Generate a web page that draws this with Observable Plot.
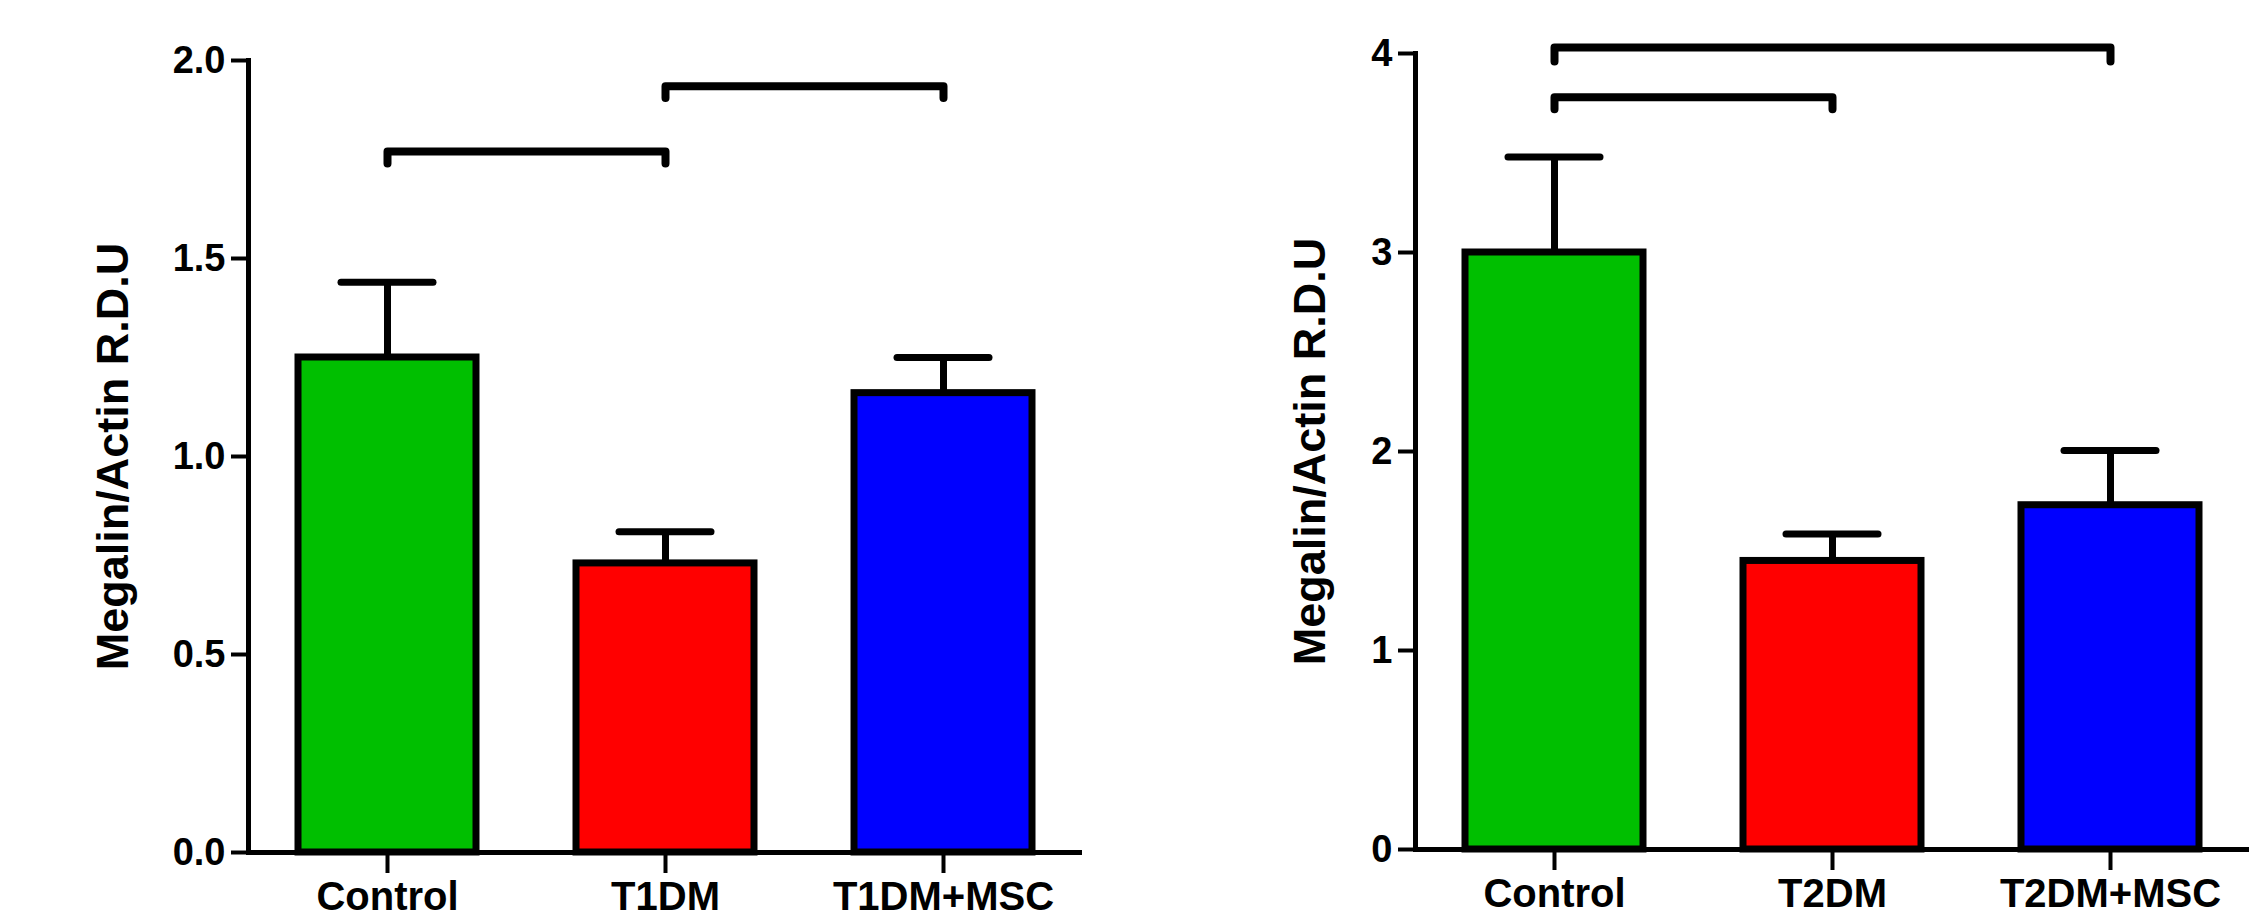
<!DOCTYPE html>
<html><head><meta charset="utf-8">
<script src="https://cdn.jsdelivr.net/npm/d3@7"></script>
<script src="https://cdn.jsdelivr.net/npm/@observablehq/plot@0.6"></script>
<style>
html,body{margin:0;padding:0;background:#fff;}
#wrap{position:relative;width:2262px;height:923px;overflow:hidden;background:#fff;}
#left,#right{position:absolute;top:0;}
#left{left:0;} #right{left:1122px;}
</style></head><body>
<div id="wrap"><div id="left"></div><div id="right"></div></div>
<script>
const yLabel = "Megalin/Actin R.D.U";
const colors = ["#00bf00", "#ff0000", "#0000ff"];

// Panel 1 (T1DM)
const groups1 = ["Control", "T1DM", "T1DM+MSC"];
const means1 = [1.25, 0.73, 1.16];
const sems1 = [0.19, 0.08, 0.09];
const ticks1 = [0, 0.5, 1.0, 1.5, 2.0];
const bracketFrom1 = ["Control", "T1DM"];
const bracketTo1 = ["T1DM", "T1DM+MSC"];
const bracketLevel1 = [1.77, 1.935];
const bracketTip1 = [1.74, 1.905];

// Panel 2 (T2DM)
const groups2 = ["Control", "T2DM", "T2DM+MSC"];
const means2 = [3.0, 1.45, 1.73];
const sems2 = [0.48, 0.135, 0.275];
const ticks2 = [0, 1, 2, 3, 4];
const bracketFrom2 = ["Control", "Control"];
const bracketTo2 = ["T2DM+MSC", "T2DM"];
const bracketLevel2 = [4.03, 3.78];
const bracketTip2 = [3.96, 3.72];

function panel(o) {
  const data = o.groups.map((g, i) => ({group: g, mean: o.means[i], top: o.means[i] + o.sems[i]}));
  const brackets = o.bFrom.flatMap((f, i) => [
    {id: i, x: f, y: o.bTip[i]},
    {id: i, x: f, y: o.bLevel[i]},
    {id: i, x: o.bTo[i], y: o.bLevel[i]},
    {id: i, x: o.bTo[i], y: o.bTip[i]}
  ]);
  return Plot.plot({
    width: o.width, height: 923,
    marginLeft: o.marginLeft, marginRight: o.width - o.marginLeft - 834,
    marginTop: o.marginTop, marginBottom: o.marginBottom,
    style: {fontFamily: "'Liberation Sans', Arial, sans-serif", fontWeight: "bold", color: "#000", background: "#fff", overflow: "visible"},
    x: {domain: o.groups, paddingInner: 0.36, paddingOuter: 0.18, label: null},
    y: {domain: [0, o.yMax], label: null},
    color: {domain: o.groups, range: colors},
    marks: [
      Plot.barY(data, {x: "group", y: "mean", fill: "group", stroke: "#000", strokeWidth: 7}),
      Plot.ruleX(data, {x: "group", y1: "mean", y2: "top", stroke: "#000", strokeWidth: 7}),
      Plot.tickY(data, {x: "group", y: "top", stroke: "#000", strokeWidth: 7, strokeLinecap: "round", insetLeft: 43, insetRight: 43}),
      Plot.line(brackets, {x: "x", y: "y", z: "id", stroke: "#000", strokeWidth: 8, strokeLinecap: "round", strokeLinejoin: "round"}),
      Plot.ruleY([0], {stroke: "#000", strokeWidth: 5}),
      Plot.frame({anchor: "left", stroke: "#000", strokeWidth: 5}),
      Plot.axisY({ticks: o.ticks, tickFormat: o.fmt, tickSize: 17, tickPadding: 6, fontSize: 38, strokeWidth: 4, label: null}),
      Plot.axisX({tickSize: 21, tickPadding: 8, fontSize: 40, strokeWidth: 4, label: null}),
      Plot.text([yLabel], {frameAnchor: "left", rotate: -90, dx: o.labelDx, fontSize: 45, fontWeight: "bold", lineAnchor: "middle", textAnchor: "middle"})
    ]
  });
}

document.getElementById("left").append(panel({
  groups: groups1, means: means1, sems: sems1, ticks: ticks1, fmt: d => d.toFixed(1),
  bFrom: bracketFrom1, bTo: bracketTo1, bLevel: bracketLevel1, bTip: bracketTip1,
  width: 1122, marginLeft: 248, marginTop: 60, marginBottom: 71, yMax: 2, labelDx: -135
}));
document.getElementById("right").append(panel({
  groups: groups2, means: means2, sems: sems2, ticks: ticks2, fmt: d => String(d),
  bFrom: bracketFrom2, bTo: bracketTo2, bLevel: bracketLevel2, bTip: bracketTip2,
  width: 1140, marginLeft: 293, marginTop: 53, marginBottom: 74, yMax: 4, labelDx: -105
}));
</script>
</body></html>
